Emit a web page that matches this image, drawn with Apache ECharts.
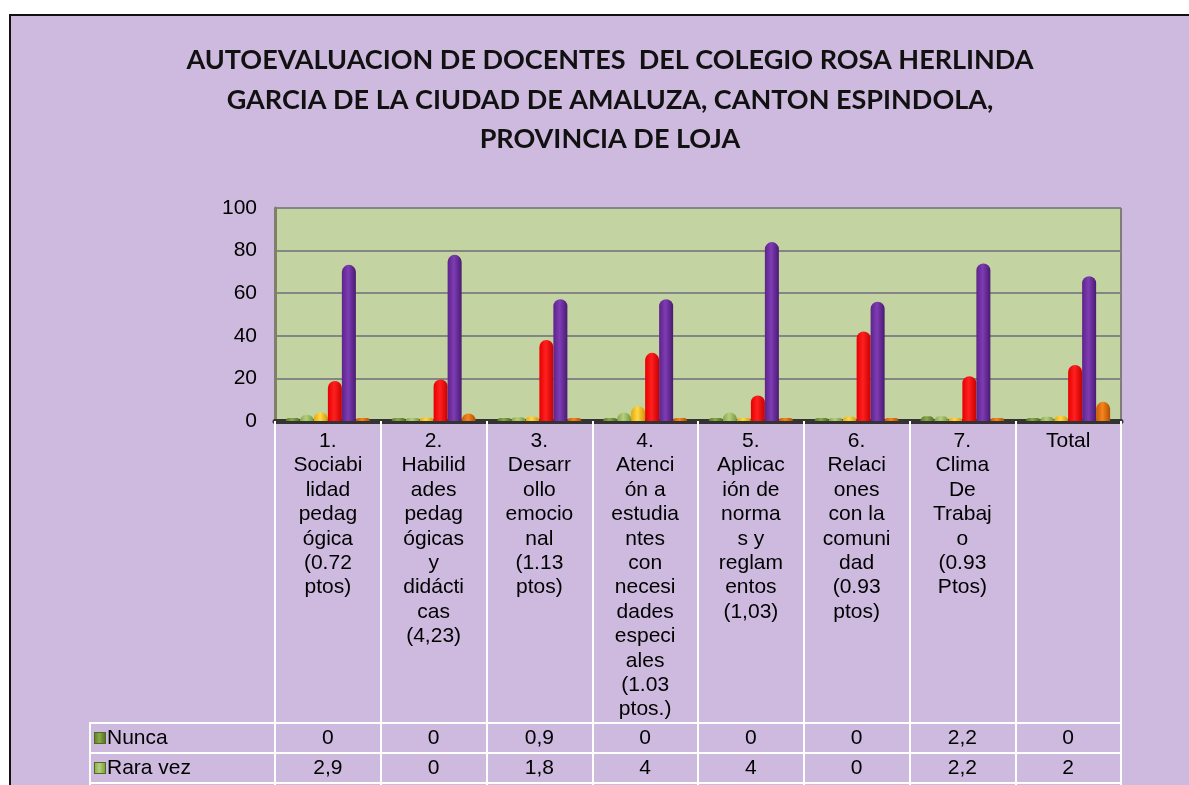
<!DOCTYPE html>
<html>
<head>
<meta charset="utf-8">
<script src="https://cdn.jsdelivr.net/npm/echarts@6/dist/echarts.min.js"></script>
<style>
  body { margin: 0; background: #fff; }
  #bg { position: absolute; left: 9px; top: 14px; right: 0; bottom: 0;
        background: #CEBADF; border-top: 2px solid #111; border-left: 2px solid #111; }
  #main { position: absolute; left: 0; top: 0; width: 1189px; height: 785px; }
</style>
</head>
<body>
<div id="bg"></div>
<div id="main"></div>
<script>
var categorias = [
  '1.\nSociabi\nlidad\npedag\nógica\n(0.72\nptos)',
  '2.\nHabilid\nades\npedag\nógicas\ny\ndidácti\ncas\n(4,23)',
  '3.\nDesarr\nollo\nemocio\nnal\n(1.13\nptos)',
  '4.\nAtenci\nón a\nestudia\nntes\ncon\nnecesi\ndades\nespeci\nales\n(1.03\nptos.)',
  '5.\nAplicac\nión de\nnorma\ns y\nreglam\nentos\n(1,03)',
  '6.\nRelaci\nones\ncon la\ncomuni\ndad\n(0.93\nptos)',
  '7.\nClima\nDe\nTrabaj\no\n(0.93\nPtos)',
  'Total'
];
var nombres = ['Nunca', 'Rara vez', 'A veces', 'Frecuentemente', 'Siempre', 'No contesta'];
var nunca    = [0, 0, 0.9, 0, 0, 0, 2.2, 0];
var raraVez  = [2.9, 0, 1.8, 4, 4, 0, 2.2, 2];
var aVeces   = [4.1, 1.5, 2, 7, 0, 2, 0.5, 2.5];
var frecuente= [18.8, 19.5, 38, 32, 12, 42, 21, 26.3];
var siempre  = [73.3, 78, 57.2, 57.2, 84, 56, 74, 68];
var noContesta = [0, 3.5, 0, 0, 0, 0, 0, 9];
var ticksY = [0, 20, 40, 60, 80, 100];

var colores = [
  ['#5d7a2a', '#8aa84c', '#4f6b22'],
  ['#86a84a', '#b3cf7c', '#76963a'],
  ['#e6a800', '#ffd84a', '#d09600'],
  ['#e60000', '#ff2020', '#c80000'],
  ['#5c2488', '#7e3cb4', '#4a1a72'],
  ['#c85a05', '#f5861f', '#b04e04']
];
var datos = [nunca, raraVez, aVeces, frecuente, siempre, noContesta];
var fuente = 'Arial, Liberation Sans, sans-serif';

function cilindro(c) {
  return new echarts.graphic.LinearGradient(0, 0, 1, 0, [
    {offset: 0, color: c[0]}, {offset: 0.45, color: c[1]}, {offset: 1, color: c[2]}
  ]);
}
function fmt(v) { return String(v).replace('.', ','); }

var chart = echarts.init(document.getElementById('main'));

// filas de la tabla de datos debajo del eje
var filaEstilo = function (i, off) {
  return {
    type: 'category',
    position: 'bottom',
    offset: off,
    data: datos[i].map(fmt),
    axisLine: {lineStyle: {color: '#fff', width: 2}},
    axisTick: {show: true, interval: 0, length: 30, lineStyle: {color: '#fff', width: 2}},
    axisLabel: {interval: 0, margin: 0, fontSize: 21, lineHeight: 30, color: '#000',
      fontFamily: fuente},
    name: '{k|}{t|' + nombres[i] + '}',
    nameLocation: 'start',
    nameGap: 185,
    nameTextStyle: {
      align: 'left', verticalAlign: 'top',
      padding: [0, 0, 0, 5],
      borderColor: '#fff', borderWidth: 2,
      rich: {
        k: {width: 10, height: 10, backgroundColor: cilindro(colores[i]), borderColor: '#4f6b22', borderWidth: 1},
        t: {width: 168, fontSize: 21, lineHeight: 30, height: 30, color: '#000', fontFamily: fuente, padding: [0, 0, 0, 2]}
      }
    }
  };
};

var option = {
  animation: false,
  title: {
    text: 'AUTOEVALUACION DE DOCENTES  DEL COLEGIO ROSA HERLINDA\nGARCIA DE LA CIUDAD DE AMALUZA, CANTON ESPINDOLA,\nPROVINCIA DE LOJA',
    left: 605, top: 36, textAlign: 'center',
    textStyle: {fontFamily: 'Lato', fontWeight: 'bold', fontSize: 27, lineHeight: 39.5, color: '#111'}
  },
  grid: {
    left: 275, right: 68, top: 208, bottom: 364,
    containLabel: false, outerBoundsMode: 'none',
    show: true, backgroundColor: '#C3D3A1', borderColor: '#333', borderWidth: 1
  },
  xAxis: [
    {
      type: 'category',
      data: categorias,
      axisLine: {lineStyle: {color: '#333', width: 5}},
      axisTick: {show: true, interval: 0, length: 302, lineStyle: {color: '#fff', width: 2}},
      axisLabel: {interval: 0, margin: 8, fontSize: 21, lineHeight: 24.4, color: '#000',
        fontFamily: fuente, align: 'center'}
    },
    filaEstilo(0, 302),
    filaEstilo(1, 332),
    filaEstilo(2, 362)
  ],
  yAxis: {
    type: 'value', min: 0, max: 100, interval: 20,
    axisLine: {show: true, lineStyle: {color: '#7f7f6a', width: 3}},
    axisTick: {show: false},
    axisLabel: {fontSize: 21, color: '#000', margin: 18, fontFamily: fuente,
      formatter: function (v) { return ticksY.indexOf(v) >= 0 ? v : ''; }},
    splitLine: {lineStyle: {color: '#858585', width: 2}}
  },
  series: nombres.map(function (n, i) {
    return {
      name: n,
      type: 'bar',
      xAxisIndex: 0,
      data: datos[i],
      barWidth: 14,
      barGap: '0%',
      barMinHeight: 3,
      itemStyle: {color: cilindro(colores[i]), borderRadius: [7, 7, 0, 0]}
    };
  })
};
chart.setOption(option);
</script>
</body>
</html>
